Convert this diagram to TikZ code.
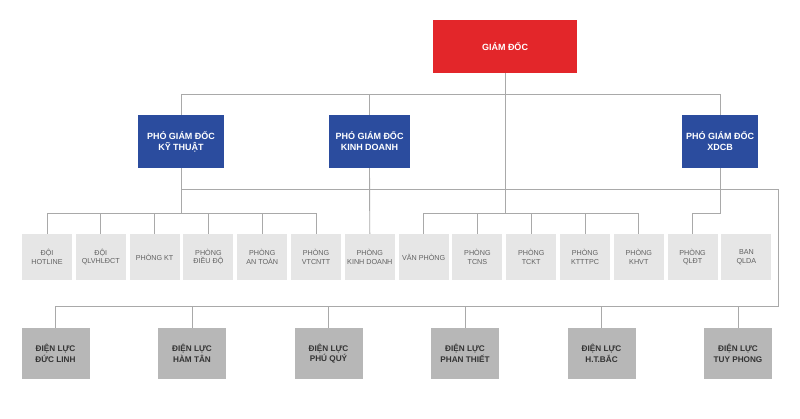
\documentclass[tikz,border=0pt]{standalone}
\usepackage{fontspec}
\setmainfont{Liberation Sans}
\definecolor{gdred}{HTML}{E3262A}
\definecolor{pgdblue}{HTML}{2B4C9E}
\definecolor{phonggray}{HTML}{E6E6E6}
\definecolor{dlgray}{HTML}{B7B7B7}
\definecolor{linegray}{HTML}{A9A9A9}

\begin{document}
\begin{tikzpicture}[x=1pt, y=-1pt,
	every node/.style={align=center, inner sep=0pt},
	conn/.style={draw=linegray, line width=0.9pt},
	gdbox/.style={fill=gdred, text=white, font=\fontsize{9}{11}\selectfont\bfseries, minimum width=144pt, minimum height=53pt},
	pgdbox/.style={fill=pgdblue, text=white, font=\fontsize{9}{11}\selectfont\bfseries, minimum height=53pt},
	phongbox/.style={fill=phonggray, text=black!62, font=\fontsize{7.2}{8.8}\selectfont, minimum width=50pt, minimum height=46pt},
	dlbox/.style={fill=dlgray, text=black!80, font=\fontsize{8.2}{10.5}\selectfont\bfseries, minimum width=68pt, minimum height=51pt}]
	\useasboundingbox (0,0) rectangle (800,419);
	% levels of the horizontal lines
	\coordinate (busa) at (0,94);
	\coordinate (busb) at (0,189);
	\coordinate (busc) at (0,213);
	\coordinate (busd) at (0,306);
	\coordinate (rail) at (778,0);

	\node[gdbox] (gd) at (505,46.5) {GIÁM ĐỐC};
	\node[pgdbox, minimum width=86pt] (pgdkt) at (181,141.5) {PHÓ GIÁM ĐỐC\\KỸ THUẬT};
	\node[pgdbox, minimum width=81pt] (pgdkd) at (369.5,141.5) {PHÓ GIÁM ĐỐC\\KINH DOANH};
	\node[pgdbox, minimum width=76pt] (pgdxd) at (720,141.5) {PHÓ GIÁM ĐỐC\\XDCB};

	\foreach \i/\txt in {1/{ĐỘI\\HOTLINE}, 2/{ĐỘI\\QLVHLĐCT}, 3/{PHÒNG KT}, 4/{PHÒNG\\ĐIỀU ĐỘ}, 5/{PHÒNG\\AN TOÀN}, 6/{PHÒNG\\VTCNTT}, 7/{PHÒNG\\KINH DOANH}, 8/{VĂN PHÒNG}, 9/{PHÒNG\\TCNS}, 10/{PHÒNG\\TCKT}, 11/{PHÒNG\\KTTTPC}, 12/{PHÒNG\\KHVT}, 13/{PHÒNG\\QLĐT}, 14/{BAN\\QLDA}}
		\node[phongbox] (p\i) at ({47+53.8*(\i-1)},257) {\txt};

	\foreach \i/\txt in {1/{ĐIỆN LỰC\\ĐỨC LINH}, 2/{ĐIỆN LỰC\\HÀM TÂN}, 3/{ĐIỆN LỰC\\PHÚ QUÝ}, 4/{ĐIỆN LỰC\\PHAN THIẾT}, 5/{ĐIỆN LỰC\\H.T.BẮC}, 6/{ĐIỆN LỰC\\TUY PHONG}}
		\node[dlbox] (dl\i) at ({55.5+136.5*(\i-1)},353.5) {\txt};

	% connectors
	\draw[conn] (pgdkt.north) |- (pgdxd.north |- busa) -- (pgdxd.north);
	\draw[conn] (pgdkd.north) -- (pgdkd.north |- busa);
	\draw[conn] (gd.south) -- (gd.south |- busc);
	\draw[conn] (pgdkt.south) -- (pgdkt.south |- busc);
	\draw[conn] (pgdkt.south |- busb) -| (rail |- busd) -- (dl1.north |- busd);
	\draw[conn] (pgdkd.south) -- (p7.north);
	\draw[conn] (pgdxd.south) |- (p13.north |- busc) -- (p13.north);
	\draw[conn] (p1.north) |- (p6.north |- busc) -- (p6.north);
	\draw[conn] (p8.north) |- (p12.north |- busc) -- (p12.north);
	\foreach \i in {2,3,4,5,9,10,11}
		\draw[conn] (p\i.north) -- (p\i.north |- busc);
	\foreach \i in {1,...,6}
		\draw[conn] (dl\i.north) -- (dl\i.north |- busd);
\end{tikzpicture}
\end{document}
